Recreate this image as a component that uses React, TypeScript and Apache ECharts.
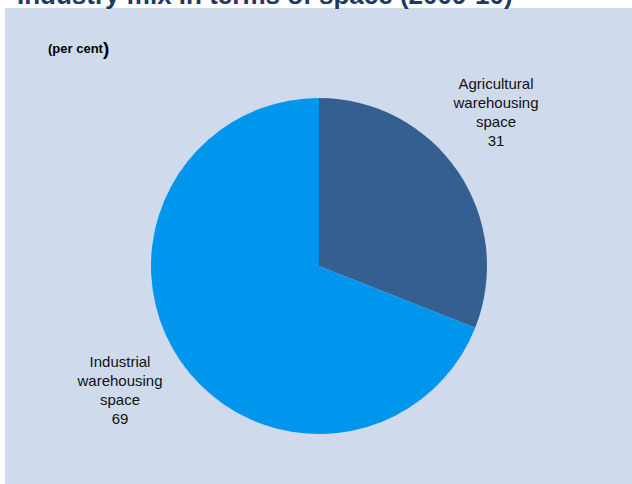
import React, { useEffect, useRef } from "react";
import * as echarts from "echarts";

const categories = ["Agricultural\nwarehousing\nspace", "Industrial\nwarehousing\nspace"];
const values = [31, 69];
const colors = ["#355f91", "#0096ee"];
const titleText = "Industry mix in terms of space (2009-10)";
const unitText = "(per cent";

export default function App() {
  const ref = useRef<HTMLDivElement>(null);
  useEffect(() => {
    if (!ref.current) return;
    const chart = echarts.init(ref.current, null, { renderer: "svg" });
    const labelPos = [
      { x: 496, y: 112 },
      { x: 120, y: 390 },
    ];
    chart.setOption({
      animation: false,
      backgroundColor: "#ffffff",
      graphic: [
        {
          type: "rect",
          z: -10,
          shape: { x: 5, y: 8, width: 627, height: 476 },
          style: { fill: "#cfdbed" },
          silent: true,
        },
        {
          type: "text",
          x: 17,
          y: 7.5,
          style: {
            text: titleText,
            font: "bold 26px 'Liberation Sans', Arial, sans-serif",
            fill: "#1f3a60",
            verticalAlign: "bottom",
          },
        },
        {
          type: "text",
          x: 48,
          y: 58,
          style: {
            text: "{a|" + unitText + "}{b|)}",
            rich: {
              a: {
                font: "bold 13px 'Liberation Sans Narrow', 'Liberation Sans', Arial, sans-serif",
                fill: "#000000",
              },
              b: {
                font: "bold 19px 'Liberation Sans Narrow', 'Liberation Sans', Arial, sans-serif",
                fill: "#000000",
              },
            },
            verticalAlign: "bottom",
          },
        },
      ],
      series: [
        {
          type: "pie",
          center: [319, 266],
          radius: [0, 168],
          startAngle: 90,
          clockwise: true,
          silent: true,
          data: categories.map((c, i) => ({
            name: c,
            value: values[i],
            itemStyle: { color: colors[i] },
          })),
          label: {
            show: true,
            formatter: "{b}\n{c}",
            color: "#111111",
            fontFamily: "'Liberation Sans', Arial, sans-serif",
            fontSize: 15,
            lineHeight: 18.7,
            align: "center",
          },
          labelLine: { show: false },
          labelLayout: (params: any) => ({
            x: labelPos[params.dataIndex].x,
            y: labelPos[params.dataIndex].y,
            align: "center",
            verticalAlign: "middle",
          }),
        },
      ],
    });
    return () => chart.dispose();
  }, []);
  return (
    <div
      ref={ref}
      style={{ position: "absolute", left: 0, top: 0, width: 632, height: 484 }}
    />
  );
}
